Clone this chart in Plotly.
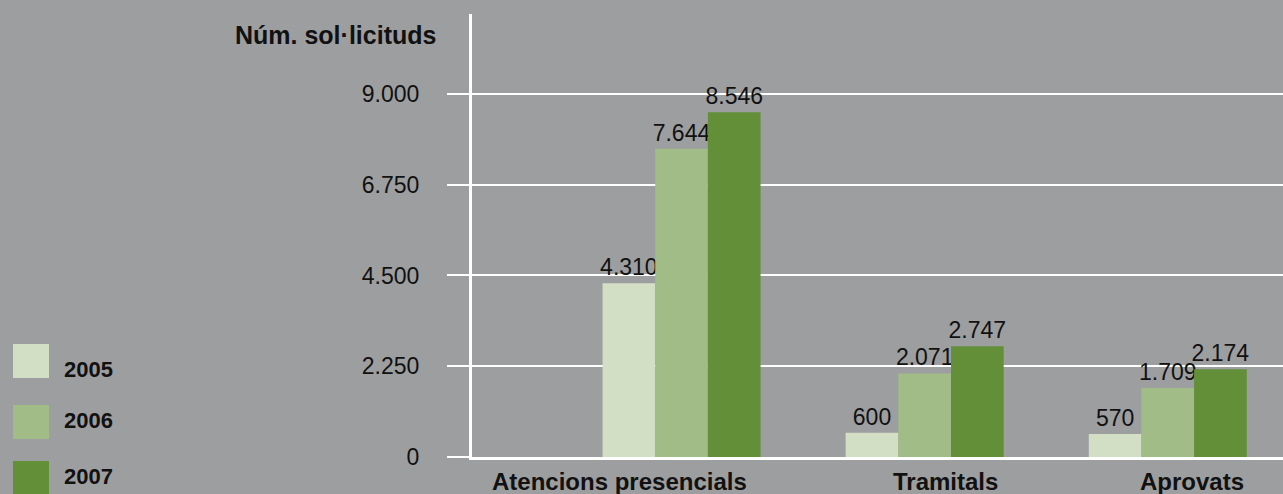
import plotly.graph_objects as go

categories = ["Atencions presencials", "Tramitals", "Aprovats"]
years = ["2005", "2006", "2007"]
values_2005 = [4310, 600, 570]
values_2006 = [7644, 2071, 1709]
values_2007 = [8546, 2747, 2174]
colors = ["#d3dfc5", "#a1bc87", "#628f37"]
y_ticks = [0, 2250, 4500, 6750, 9000]
y_tick_labels = ["0", "2.250", "4.500", "6.750", "9.000"]
y_title = "Núm. sol·licituds"
label_shift = [-62, 21, 24]

W, H = 1283, 494
ML, MR, MT, MB = 472, 0, 14, 37
PW, PH = W - ML - MR, H - MT - MB
BG = "#9d9ea0"
FONT = "Liberation Sans, Arial, Helvetica, sans-serif"


def px(x):
    return (x - ML) / PW


def py(y):
    return (H - MB - y) / PH


fig = go.Figure()
for yr, vals, col in zip(years, [values_2005, values_2006, values_2007], colors):
    fig.add_trace(go.Bar(
        x=categories, y=vals, name=yr, marker=dict(color=col, line=dict(width=0)),
        texttemplate="%{y:,d}", textposition="outside", cliponaxis=False,
        constraintext="none",
        textfont=dict(size=23, color="#111111", family=FONT),
    ))

shapes = []
annotations = []
leg_tops = [344, 405, 461]
leg_text_y = [369, 420, 476]
for yr, col, top, ty in zip(years, colors, leg_tops, leg_text_y):
    shapes.append(dict(type="rect", xref="paper", yref="paper",
                       x0=px(13), x1=px(49), y0=py(top + 34), y1=py(top),
                       fillcolor=col, line=dict(width=0), layer="above"))
    annotations.append(dict(text="<b>%s</b>" % yr, xref="paper", yref="paper",
                            x=px(62), y=py(ty), xanchor="left", yanchor="middle",
                            showarrow=False, font=dict(size=22, color="#111111", family=FONT)))

annotations.append(dict(text="<b>%s</b>" % y_title, xref="paper", yref="paper",
                        x=px(438), y=py(35), xanchor="right", yanchor="middle",
                        showarrow=False, font=dict(size=25, color="#111111", family=FONT)))

for cat, sh in zip(categories, label_shift):
    annotations.append(dict(text="<b>%s</b>" % cat, xref="x", yref="paper",
                            x=cat, y=py(481), xshift=sh, xanchor="center", yanchor="middle",
                            showarrow=False, font=dict(size=24, color="#111111", family=FONT)))

fig.update_layout(
    width=W, height=H,
    margin=dict(l=ML, r=MR, t=MT, b=MB, pad=0),
    paper_bgcolor=BG, plot_bgcolor=BG,
    barmode="group", bargap=0.35, bargroupgap=0,
    showlegend=False,
    separators=",.",
    shapes=shapes, annotations=annotations,
    font=dict(family=FONT, color="#111111"),
)
fig.update_xaxes(
    range=[-0.862, 2.474], showticklabels=False, showgrid=False,
    showline=True, linecolor="white", linewidth=3, ticks="", zeroline=False,
)
fig.update_yaxes(
    range=[0, 10983], tickvals=y_ticks, ticktext=y_tick_labels,
    showgrid=True, gridcolor="white", gridwidth=2,
    ticks="outside", ticklen=22, tickcolor="white", tickwidth=2,
    ticklabelstandoff=23,
    showline=True, linecolor="white", linewidth=3, zeroline=False,
    tickfont=dict(size=23, color="#111111", family=FONT),
)

fig.write_html("out.html")
